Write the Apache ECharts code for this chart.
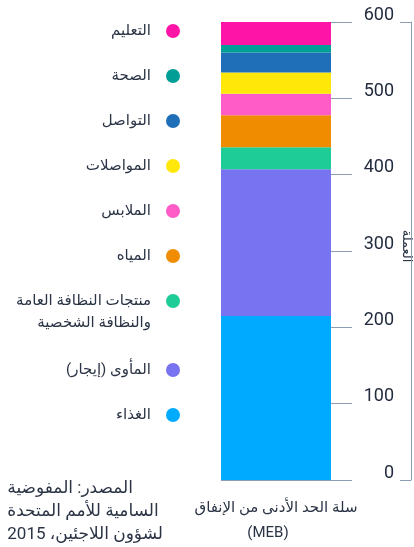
<!DOCTYPE html>
<html>
<head>
<meta charset="utf-8">
<script src="https://cdn.jsdelivr.net/npm/echarts@6/dist/echarts.min.js"></script>
<style>
  html, body { margin: 0; padding: 0; background: #fff; }
  #chart { width: 414px; height: 547px; }
</style>
</head>
<body>
<div id="chart"></div>
<script>
// data, bottom of the stack first
const categories = ['سلة الحد الأدنى من الإنفاق\n(MEB)'];
const seriesNames = ['الغذاء', 'المأوى (إيجار)', 'منتجات النظافة العامة\nوالنظافة الشخصية', 'المياه', 'الملابس', 'المواصلات', 'التواصل', 'الصحة', 'التعليم'];
const seriesValues = [215, 192, 29, 42, 28, 28, 26, 10, 30];
const seriesColors = ['#00AAFF', '#7873F0', '#1ECC98', '#F08C00', '#FF5CC8', '#FFE70A', '#1F6EB8', '#009E94', '#FF14A8'];
const yMin = 0, yMax = 600, yStep = 100;
const axisName = 'العملة';
const sourceLines = ['المصدر: المفوضية', 'السامية للأمم المتحدة', 'لشؤون اللاجئين، 2015'];

const FONT = 'Roboto, "DejaVu Sans", sans-serif';
const TEXT = '#2b3445';
const LINE = '#8c9db5';

const chart = echarts.init(document.getElementById('chart'));

const series = seriesNames.map((name, i) => ({
  name: name,
  type: 'bar',
  stack: 'meb',
  barWidth: '100%',
  data: [seriesValues[i]],
  itemStyle: { color: seriesColors[i] },
}));

// legend reads top of stack first; the two-line item keeps its dot on line one,
// so the legend is split after it and the rest continues lower down
const legendOrder = seriesNames.slice().reverse();
const splitAt = legendOrder.findIndex(n => n.indexOf('\n') >= 0) + 1;
const toItem = name => name.indexOf('\n') >= 0
  ? { name: name, textStyle: { rich: { r: {} }, height: 22 } }
  : { name: name };

const legendBase = {
  orient: 'vertical',
  right: 234,
  padding: 0,
  itemGap: 23,
  itemWidth: 34,
  itemHeight: 14,
  icon: 'circle',
  align: 'right',
  selectedMode: false,
  textStyle: { fontSize: 15, color: TEXT, fontFamily: FONT, lineHeight: 22 },
};

chart.setOption({
  animation: false,
  grid: { left: 221, right: 83, top: 22, bottom: 67, outerBoundsMode: 'none' },
  legend: [
    Object.assign({}, legendBase, { top: 20, data: legendOrder.slice(0, splitAt).map(toItem) }),
    Object.assign({}, legendBase, { top: 359, data: legendOrder.slice(splitAt).map(toItem) }),
  ],
  xAxis: {
    type: 'category',
    data: categories,
    axisLine: { show: false },
    axisTick: { show: false },
    axisLabel: {
      interval: 0, margin: 16, fontSize: 15, lineHeight: 25, color: TEXT, fontFamily: FONT,
      formatter: v => v.split('\n').map((s, i) => (i ? '{m|' + s + '}' : s)).join('\n'),
      rich: { m: { fontSize: 15, lineHeight: 25, color: TEXT, fontFamily: FONT, padding: [0, 16, 0, 0] } },
    },
  },
  yAxis: [
    {
      type: 'value',
      position: 'right',
      min: yMin, max: yMax, interval: yStep,
      axisLine: { show: false },
      axisTick: { show: true, length: 21, lineStyle: { color: LINE } },
      splitLine: { show: true, lineStyle: { color: LINE } },
      axisLabel: { margin: 63, align: 'right', verticalAlign: 'bottom', lineHeight: 14, fontSize: 18, color: '#232c3f', fontFamily: FONT },
    },
    {
      type: 'value',
      position: 'right',
      offset: 80,
      min: yMin, max: yMax, interval: yMax - yMin,
      axisLine: { show: true, lineStyle: { color: LINE } },
      axisTick: { show: true, inside: true, length: 11, lineStyle: { color: LINE } },
      axisLabel: { show: false },
      splitLine: { show: false },
      name: axisName,
      nameLocation: 'middle',
      nameGap: -11,
      nameRotate: -90,
      nameTextStyle: { fontSize: 13, color: TEXT, fontFamily: FONT, backgroundColor: '#fff', padding: [0, 40, 0, 30] },
    },
  ],
  graphic: [{
    type: 'text',
    right: 251,
    top: 477,
    style: { text: sourceLines.join('\n'), font: '17px ' + FONT, fill: TEXT, align: 'right', lineHeight: 23 },
  }],
  series: series,
});
</script>
</body>
</html>
